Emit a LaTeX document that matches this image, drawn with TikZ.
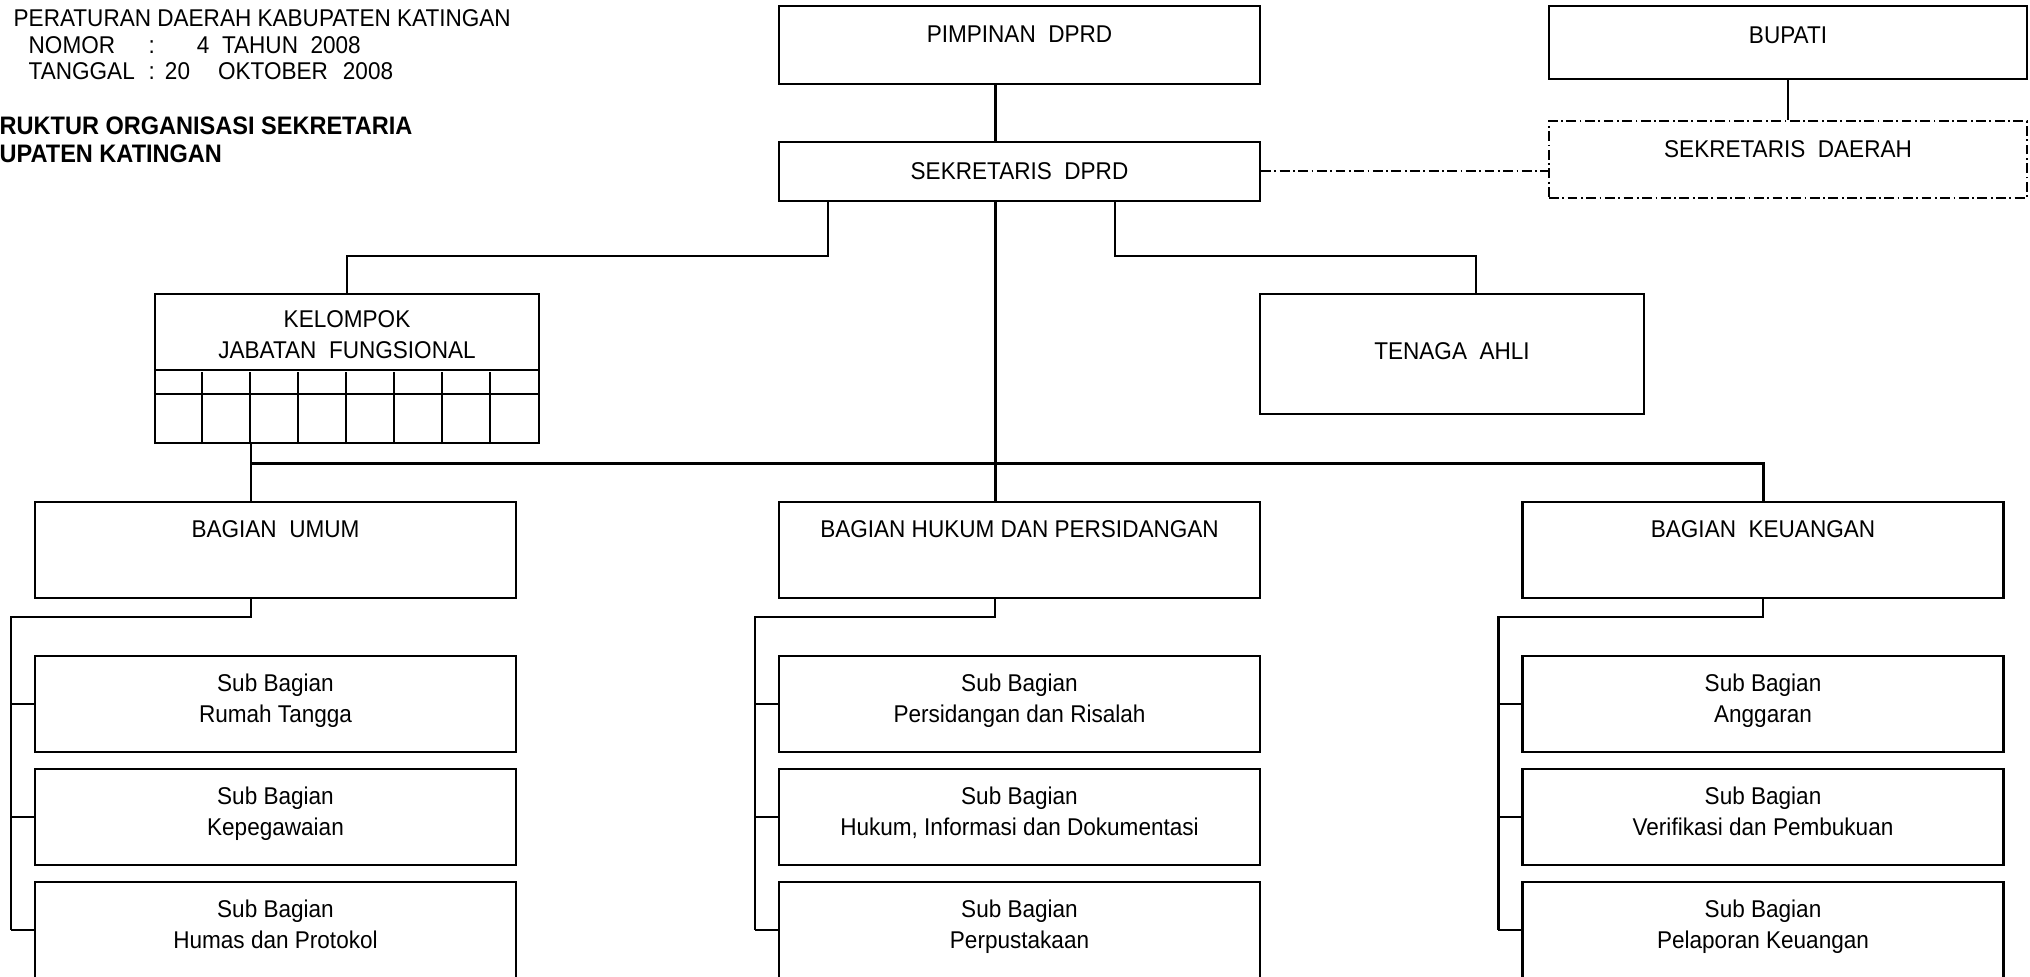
\documentclass[tikz,border=0pt]{standalone}
\usepackage{fontspec}
\setmainfont{Liberation Sans}[FakeStretch=0.93]
\usetikzlibrary{positioning}
\tikzset{
  orgbox/.style={draw, line width=0.6pt, inner sep=0pt, align=center, minimum width=4.81cm},
  subbox/.style={orgbox, minimum height=0.96cm},
  smallbox/.style={draw, line width=0.6pt, inner sep=0pt, align=center, minimum width=3.84cm},
  orgline/.style={line width=0.6pt},
  mainline/.style={line width=0.85pt},
  dashdot/.style={line width=0.6pt, dash pattern=on 2.8pt off 1pt on 0.5pt off 1pt},
  headtext/.style={inner sep=0pt, anchor=base west},
}
\newcommand{\subbag}[1]{Sub Bagian\\#1\rule[-0.12cm]{0pt}{0pt}}

\begin{document}
\begin{tikzpicture}[font=\fontsize{6.9pt}{9pt}\selectfont]
  \useasboundingbox (0,0) rectangle (20.30,-9.76);
  % header
  \node[headtext] (perda) at (0.13,-0.267) {PERATURAN DAERAH KABUPATEN KATINGAN};
  \node[headtext] (nomor) at (0.28,-0.537) {NOMOR};
  \node[headtext] (nomorisi) at (1.48,-0.537) {:\hspace{0.42cm}4~~TAHUN~~2008};
  \node[headtext] (tanggal) at (0.28,-0.80) {TANGGAL};
  \node[headtext] (tanggalisi) at (1.48,-0.80) {:\hspace{0.10cm}20\hspace{0.28cm}OKTOBER\hspace{0.15cm}2008};
  \node[headtext] (judul1) at (-0.01,-1.35) {\fontsize{7.2pt}{9pt}\selectfont\bfseries RUKTUR ORGANISASI SEKRETARIA};
  \node[headtext] (judul2) at (-0.01,-1.63) {\fontsize{7.2pt}{9pt}\selectfont\bfseries UPATEN KATINGAN};

  % top
  \node[orgbox, anchor=north, text height=0.365cm, text depth=0.415cm] (pim) at (10.195,-0.05) {PIMPINAN~~DPRD};
  \node[orgbox, anchor=north, text height=0.375cm, text depth=0.215cm] (sek) at (10.195,-1.41) {SEKRETARIS~~DPRD};
  \node[orgbox, anchor=north, minimum width=4.78cm, text height=0.372cm, text depth=0.358cm] (bup) at (17.88,-0.05) {BUPATI};
  \node[orgbox, dashdot, anchor=north, minimum width=4.78cm, text height=0.365cm, text depth=0.405cm] (sekda) at (17.88,-1.20) {SEKRETARIS~~DAERAH};

  \node[smallbox, anchor=north, minimum height=1.49cm] (kjf) at (3.47,-2.93) {};
  \node[inner sep=0pt, align=center] (kjftext) at (3.47,-3.345) {KELOMPOK\\JABATAN~~FUNGSIONAL};
  \node[smallbox, anchor=north, text height=0.65cm, text depth=0.55cm] (ta) at (14.52,-2.93) {TENAGA~~AHLI};

  % bagian
  \node[orgbox, anchor=north, text height=0.355cm, text depth=0.605cm] (bu) at (2.755,-5.01) {BAGIAN~~UMUM};
  \node[orgbox, anchor=north, text height=0.355cm, text depth=0.605cm] (bh) at (10.195,-5.01) {BAGIAN HUKUM DAN PERSIDANGAN};
  \node[orgbox, anchor=north, text height=0.355cm, text depth=0.605cm] (bk) at (17.63,-5.01) {BAGIAN~~KEUANGAN};

  \node[subbox, below=0.56cm of bu] (bu1) {\subbag{Rumah Tangga}};
  \node[subbox, below=0.15cm of bu1] (bu2) {\subbag{Kepegawaian}};
  \node[subbox, below=0.15cm of bu2] (bu3) {\subbag{Humas dan Protokol}};
  \node[subbox, below=0.56cm of bh] (bh1) {\subbag{Persidangan dan Risalah}};
  \node[subbox, below=0.15cm of bh1] (bh2) {\subbag{Hukum, Informasi dan Dokumentasi}};
  \node[subbox, below=0.15cm of bh2] (bh3) {\subbag{Perpustakaan}};
  \node[subbox, below=0.56cm of bk] (bk1) {\subbag{Anggaran}};
  \node[subbox, below=0.15cm of bk1] (bk2) {\subbag{Verifikasi dan Pembukuan}};
  \node[subbox, below=0.15cm of bk2] (bk3) {\subbag{Pelaporan Keuangan}};

  % kelompok grid
  \foreach \y in {3.70,3.94}
    \draw[orgline] (kjf.west |- 0,-\y) -- (kjf.east |- 0,-\y);
  \foreach \i in {1,...,7}
    \draw[orgline] ([xshift=\i*0.48cm]kjf.south west) -- ++(0,0.72);

  % connectors
  \coordinate (trunk) at (9.95,0);
  \coordinate (leftdrop) at (2.51,0);
  \coordinate (bus) at (0,-4.635);
  \coordinate (kjfbranch) at (8.28,-2.56);
  \coordinate (tabranch) at (11.15,-2.56);
  \coordinate (sekline) at (0,-1.71);
  \draw[mainline] (pim.south -| trunk) -- (sek.north -| trunk);
  \draw[mainline] (sek.south -| trunk) -- (bh.north -| trunk);
  \draw[orgline] (sek.south -| kjfbranch) -- (kjfbranch) -| (kjf.north);
  \draw[orgline] (sek.south -| tabranch) -- (tabranch) -| ([xshift=0.24cm]ta.north);
  \draw[mainline] (kjf.south -| leftdrop) -- (bu.north -| leftdrop);
  \draw[mainline] (bus -| leftdrop) -- (bus -| bk.north) -- (bk.north);
  \draw[orgline] (bup) -- (sekda);
  \draw[dashdot] (sek.east |- sekline) -- (sekda.west |- sekline);
  \foreach \b/\dx in {bu/-0.245, bh/-0.245, bk/0} {
    \draw[orgline] ([xshift=\dx cm]\b.south) -- ++(0,-0.18) -| ([xshift=-0.23cm]\b3.west);
    \foreach \i in {1,2,3}
      \draw[orgline] ([xshift=-0.23cm]\b\i.west) -- (\b\i.west);
  }
\end{tikzpicture}
\end{document}
